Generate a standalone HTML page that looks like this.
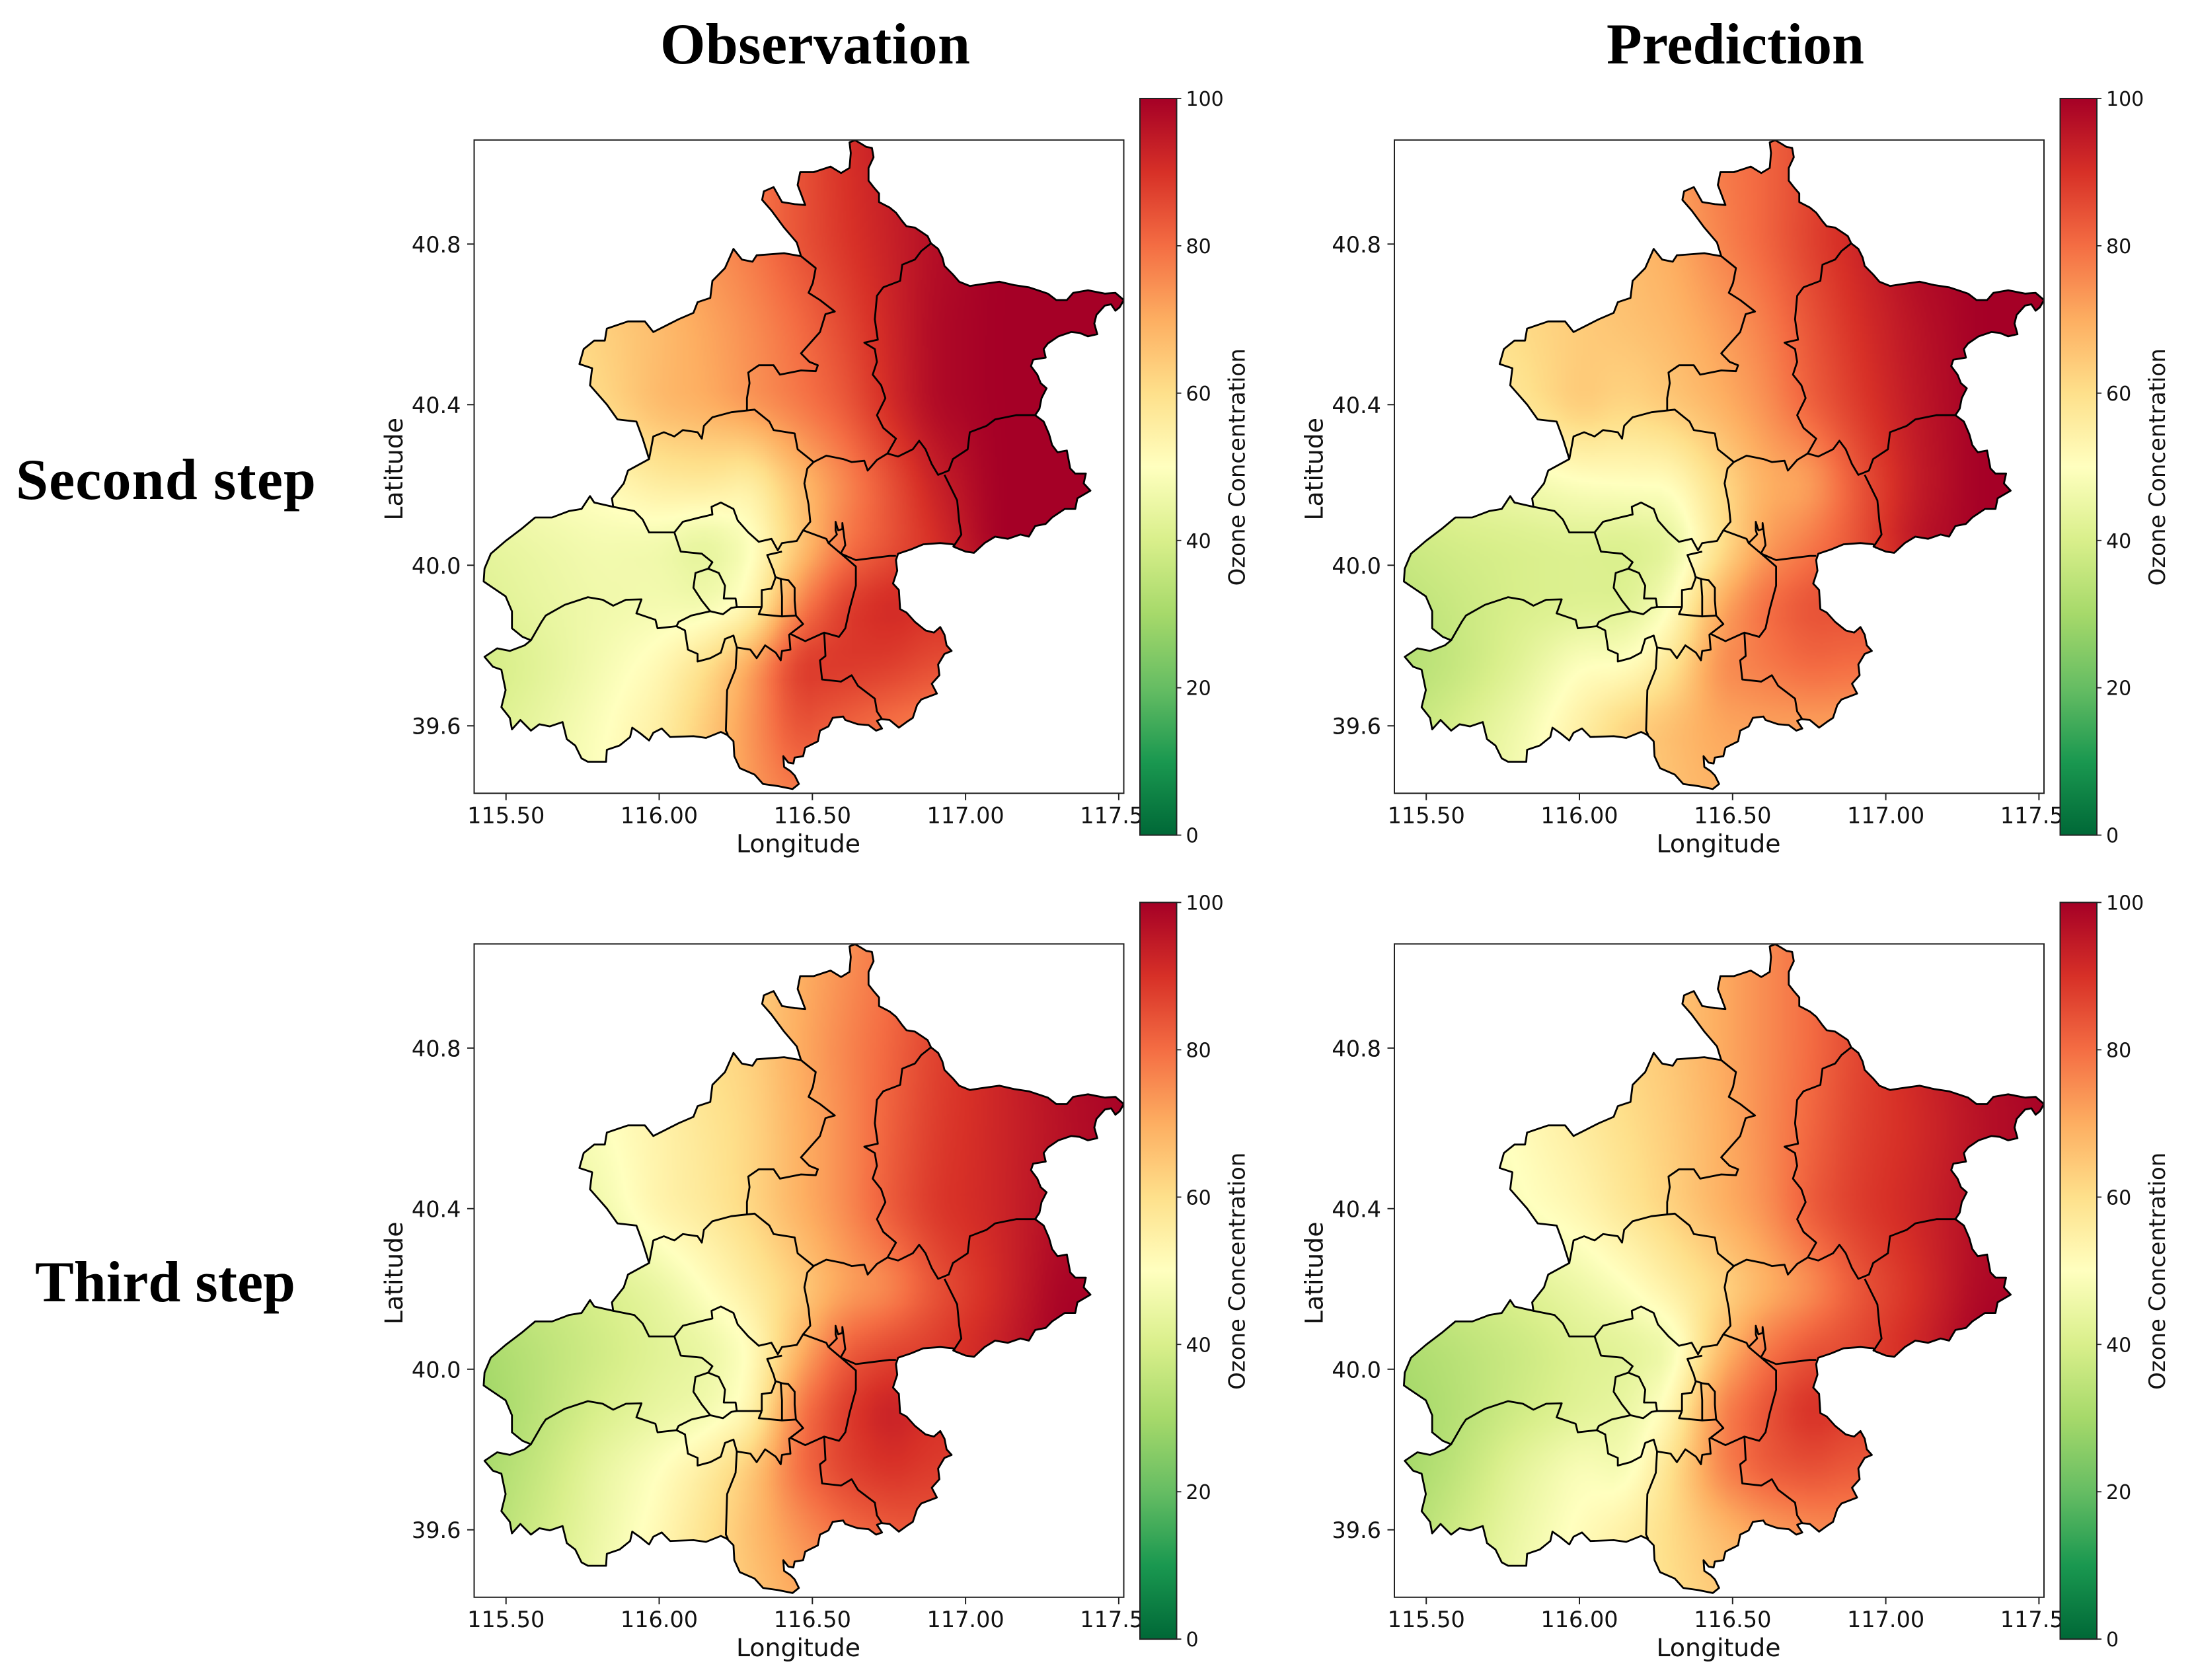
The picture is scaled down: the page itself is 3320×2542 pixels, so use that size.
<!DOCTYPE html>
<html lang="en">
<head>
<meta charset="utf-8">
<title>Ozone Concentration: Observation vs Prediction</title>
<style>
html,body{margin:0;padding:0;background:#fff;}
#stage{position:relative;width:3320px;height:2542px;overflow:hidden;background:#fff;}
#field-canvas{position:absolute;left:0;top:0;}
#chart{position:absolute;left:0;top:0;}
text{font-family:"DejaVu Sans","Liberation Sans",sans-serif;fill:#111;}
.head{font-family:"Liberation Serif",serif;font-weight:bold;font-size:88px;fill:#000;}
</style>
</head>
<body>
<div id="stage">
<canvas id="field-canvas" width="3320" height="2542"></canvas>
<svg id="chart" xmlns="http://www.w3.org/2000/svg" width="3320" height="2542" viewBox="0 0 3320 2542">
  <defs id="defs"></defs>
  <text class="head" x="999" y="96" textLength="469">Observation</text>
  <text class="head" x="2431" y="96" textLength="390">Prediction</text>
  <text class="head" x="24" y="755" textLength="454">Second step</text>
  <text class="head" x="53" y="1969" textLength="394">Third step</text>
  <g id="panels"></g>
</svg>
</div>
<script>
// ---- axis ticks ----
const lonTicks = [115.5, 116.0, 116.5, 117.0, 117.5];
const lonTickLabels = ["115.50", "116.00", "116.50", "117.00", "117.50"];
const latTicks = [40.8, 40.4, 40.0, 39.6];
const latTickLabels = ["40.8", "40.4", "40.0", "39.6"];
const colorTicks = [0, 20, 40, 60, 80, 100];

// ---- heatmap grid nodes ----
const gridLons = [115.4, 115.6, 115.8, 116.0, 116.15, 116.3, 116.45, 116.6, 116.75, 116.9, 117.1, 117.3, 117.55];
const gridLats = [41.05, 40.8, 40.6, 40.4, 40.2, 40.05, 39.9, 39.75, 39.6, 39.4];

// ---- ozone values (row per latitude, column per longitude) ----
const obsSecondStep = [
 [60,65,68,72,75,78,84,90,94,97,100,100,100],
 [60,64,67,71,74,78,84,89,93,97,100,100,100],
 [56,59,63,67,71,75,80,86,92,98,100,100,100],
 [54,57,61,68,70,74,78,83,91,98,100,100,100],
 [47,49,51,56,57,54,66,75,84,93,100,100,100],
 [43,45,47,46,42,48,64,78,84,90,100,100,100],
 [41,44,46,47,46,52,76,88,92,90,92,100,100],
 [38,42,47,52,60,72,89,89,88,85,85,85,85],
 [40,44,49,55,64,74,85,82,79,77,77,77,77],
 [42,46,50,56,65,73,77,76,75,75,75,75,75]
];
const predSecondStep = [
 [58,60,63,66,69,73,78,81,86,91,98,100,100],
 [58,60,62,65,67,70,76,81,87,92,98,100,100],
 [56,58,61,64,66,68,72,77,84,90,96,100,100],
 [53,55,58,65,62,65,69,74,82,88,95,100,100],
 [42,44,46,49,50,50,60,69,71,83,94,100,100],
 [37,39,40,41,40,42,58,72,78,84,96,100,100],
 [34,37,40,41,41,49,70,80,85,85,85,85,85],
 [32,36,42,50,50,58,75,78,81,80,80,80,80],
 [35,40,46,55,63,67,71,72,72,72,72,72,72],
 [38,43,48,56,62,66,69,69,69,69,69,69,69]
];
const obsThirdStep = [
 [42,46,51,56,60,63,69,74,79,86,92,98,100],
 [42,46,51,56,60,63,70,76,81,87,92,97,100],
 [42,45,49,54,58,62,69,75,82,88,92,96,100],
 [40,43,46,54,57,62,69,75,83,89,92,97,100],
 [35,37,40,44,50,56,63,71,75,84,91,99,100],
 [30,34,38,42,44,50,68,82,86,88,93,100,100],
 [28,34,40,44,46,52,78,88,94,90,90,90,90],
 [30,36,44,50,56,65,80,87,90,88,88,88,88],
 [31,38,45,52,59,67,74,80,83,84,84,84,84],
 [33,40,47,54,60,65,70,72,74,74,74,74,74]
];
const predThirdStep = [
 [44,48,53,58,62,65,70,75,80,86,92,98,100],
 [44,48,53,58,62,65,70,75,80,86,92,97,100],
 [44,47,51,56,60,64,69,75,81,87,91,96,100],
 [42,45,49,53,58,63,69,74,83,88,92,97,100],
 [36,38,41,45,49,55,61,68,74,83,90,98,100],
 [31,34,37,41,42,45,66,78,84,86,92,100,100],
 [29,33,38,42,44,52,76,84,91,88,88,88,88],
 [29,35,43,49,47,60,76,83,85,83,83,83,83],
 [31,38,45,51,55,61,67,72,75,76,76,76,76],
 [34,41,47,52,56,60,64,66,68,68,68,68,68]
];
const panelFields = [obsSecondStep, predSecondStep, obsThirdStep, predThirdStep];
const panelNames = ["observation-second-step", "prediction-second-step", "observation-third-step", "prediction-third-step"];

// ---- geographic outlines, digitised in map units (1/726 deg lon, 1/941.7 deg lat) ----
const outerBoundary = [[905,25],[918,20],[932,28],[945,36],[958,38],[962,60],[950,85],[950,115],[962,130],[975,145],[975,165],[1000,178],[1015,190],[1030,210],[1040,222],[1060,225],[1075,235],[1090,245],[1098,262],[1115,275],[1125,295],[1130,315],[1150,335],[1165,352],[1190,362],[1215,358],[1260,352],[1295,360],[1330,365],[1360,375],[1375,380],[1395,395],[1420,395],[1435,378],[1470,372],[1510,380],[1535,378],[1555,395],[1545,412],[1535,420],[1525,405],[1510,408],[1490,430],[1485,450],[1492,475],[1470,480],[1450,472],[1430,470],[1400,480],[1375,497],[1365,510],[1370,530],[1340,535],[1335,550],[1350,570],[1358,590],[1372,602],[1360,625],[1355,650],[1345,665],[1365,680],[1378,710],[1385,735],[1398,752],[1420,748],[1428,790],[1440,802],[1465,802],[1460,825],[1476,842],[1445,860],[1440,885],[1415,885],[1385,905],[1370,920],[1345,925],[1330,950],[1310,945],[1280,955],[1250,950],[1225,965],[1200,988],[1180,985],[1155,975],[1150,968],[1120,965],[1080,968],[1050,980],[1020,990],[1015,1005],[1018,1030],[1008,1060],[1022,1075],[1025,1120],[1040,1128],[1060,1150],[1085,1170],[1105,1175],[1120,1162],[1130,1180],[1135,1205],[1147,1218],[1130,1225],[1115,1250],[1118,1275],[1100,1295],[1112,1318],[1075,1332],[1065,1345],[1055,1375],[1040,1385],[1022,1398],[1000,1380],[980,1378],[970,1382],[982,1400],[968,1405],[950,1392],[925,1390],[895,1380],[890,1372],[865,1375],[855,1395],[835,1405],[830,1430],[800,1445],[795,1465],[775,1468],[772,1482],[760,1480],[748,1465],[750,1490],[765,1500],[775,1510],[785,1530],[770,1542],[735,1535],[700,1530],[680,1508],[645,1493],[632,1465],[630,1430],[615,1415],[600,1408],[565,1422],[535,1418],[480,1420],[460,1400],[440,1410],[430,1428],[410,1412],[390,1398],[385,1420],[360,1440],[330,1450],[328,1478],[285,1478],[270,1470],[255,1440],[235,1425],[225,1385],[195,1395],[170,1390],[150,1405],[125,1380],[105,1402],[100,1375],[80,1350],[90,1310],[80,1262],[60,1255],[40,1232],[70,1212],[100,1218],[135,1205],[150,1193],[130,1185],[105,1165],[105,1125],[90,1090],[60,1070],[38,1055],[40,1025],[55,990],[90,960],[130,930],[160,905],[200,905],[240,890],[270,885],[290,855],[300,870],[345,880],[342,860],[370,825],[380,795],[430,768],[415,720],[400,680],[355,675],[330,640],[290,595],[295,555],[265,545],[275,510],[300,490],[325,490],[330,462],[380,445],[420,445],[440,470],[470,455],[500,440],[535,425],[545,400],[575,390],[580,350],[610,320],[630,275],[650,300],[675,305],[685,290],[750,285],[790,292],[780,260],[750,225],[720,185],[698,160],[702,140],[725,130],[745,165],[775,170],[800,172],[782,125],[788,95],[820,95],[860,82],[885,97],[905,85],[908,50]];
const districtLines = [
 [[790,292],[825,320],[818,355],[808,378],[835,395],[870,422],[848,428],[835,470],[790,520],[810,540],[830,548],[825,562],[790,560],[740,570],[725,548],[690,548],[665,565],[668,590],[662,625],[662,655]],
 [[1098,262],[1075,280],[1060,300],[1030,312],[1025,350],[985,365],[970,385],[965,440],[972,488],[940,495],[965,510],[970,540],[960,570],[980,595],[990,625],[970,665],[985,695],[1015,720],[995,755]],
 [[430,768],[440,715],[465,705],[490,715],[510,700],[545,705],[555,720],[560,690],[580,670],[625,658],[680,652],[715,680],[725,700],[775,708],[782,745],[820,775],[850,760],[890,768],[910,775],[940,772],[948,795],[970,770],[995,755],[1020,762],[1055,745],[1070,725],[1085,745],[1100,780],[1115,805],[1140,795],[1150,768],[1185,745],[1190,705],[1230,690],[1250,675],[1300,665],[1345,665]],
 [[1130,805],[1160,865],[1165,915],[1170,945],[1150,975]],
 [[820,775],[805,790],[798,825],[808,875],[812,915],[795,935]],
 [[345,880],[395,890],[415,910],[430,940],[490,940],[510,915],[550,905],[580,898],[578,880],[600,870],[630,885],[640,912],[665,940],[690,962],[720,955],[735,982],[745,965],[780,960],[795,935],[850,955],[855,965],[885,990],[920,1005],[960,1000],[1000,995],[1015,995]],
 [[855,965],[875,945],[872,935],[872,915],[878,935],[888,932],[888,918],[895,970],[885,988]],
 [[490,940],[505,985],[555,990],[580,1010],[570,1025],[540,1035],[535,1070],[555,1100],[575,1125]],
 [[570,1025],[595,1035],[610,1065],[607,1095],[635,1095],[638,1115],[697,1115]],
 [[745,985],[710,993],[725,1030],[730,1048]],
 [[697,1115],[697,1075],[720,1072],[730,1045],[745,1050],[760,1052],[775,1070],[775,1100],[778,1135],[745,1137],[745,1090],[742,1048]],
 [[697,1115],[690,1132],[745,1137]],
 [[575,1125],[605,1132],[625,1117],[638,1115]],
 [[575,1125],[530,1135],[500,1150],[495,1160],[515,1170],[522,1215],[545,1225],[545,1243],[575,1235],[600,1222],[610,1190],[630,1182],[638,1210],[670,1215],[685,1235],[705,1205],[730,1222],[742,1240],[745,1218],[765,1215],[762,1180],[795,1155],[778,1135]],
 [[885,990],[920,1020],[920,1065],[905,1120],[895,1165],[880,1185],[845,1175],[800,1195],[765,1178]],
 [[845,1175],[848,1230],[835,1240],[840,1285],[885,1290],[910,1275],[925,1300],[965,1330],[970,1360],[982,1378]],
 [[638,1210],[635,1260],[615,1310],[612,1405],[617,1415]],
 [[150,1193],[175,1150],[185,1135],[230,1110],[285,1092],[320,1098],[345,1112],[375,1098],[412,1097],[400,1130],[445,1145],[450,1165],[495,1160]]
];

// ---- RdYlGn_r colormap ----
const colormapStops = ["#006837","#1a9850","#66bd63","#a6d96a","#d9ef8b","#ffffbf","#fee08b","#fdae61","#f46d43","#d73027","#a50026"];

// ---- layout ----
const panelWidth = 983, panelHeight = 988.5;
const colLeft = [717.5, 2110];
const rowTop = [211.8, 1428.3];
const lonMin = 115.396, lonMax = 117.5164, latMax = 41.0593, latMin = 39.432;
const geoLon = u => 115.3747 + u / 726;
const geoLat = v => 41.08 - v / 941.7;
const NS = "http://www.w3.org/2000/svg";

function hexRgb(h){return [parseInt(h.slice(1,3),16),parseInt(h.slice(3,5),16),parseInt(h.slice(5,7),16)];}
const stopsRgb = colormapStops.map(hexRgb);
function colorFor(v){
  const t = Math.max(0, Math.min(100, v)) / 10;
  const i = Math.min(9, Math.floor(t)), f = t - i;
  const a = stopsRgb[i], b = stopsRgb[i + 1];
  return "rgb(" + Math.round(a[0] + (b[0] - a[0]) * f) + "," + Math.round(a[1] + (b[1] - a[1]) * f) + "," + Math.round(a[2] + (b[2] - a[2]) * f) + ")";
}
const colorLut = [];
for (let i = 0; i <= 1000; i++) colorLut.push(colorFor(i / 10));

function segIndexAsc(arr, v){
  let i = 0;
  while (i < arr.length - 2 && v > arr[i + 1]) i++;
  return i;
}
function segIndexDesc(arr, v){
  let i = 0;
  while (i < arr.length - 2 && v < arr[i + 1]) i++;
  return i;
}
function sampleField(field, lon, lat){
  const i = segIndexAsc(gridLons, lon), j = segIndexDesc(gridLats, lat);
  const fx = Math.max(0, Math.min(1, (lon - gridLons[i]) / (gridLons[i + 1] - gridLons[i])));
  const fy = Math.max(0, Math.min(1, (lat - gridLats[j]) / (gridLats[j + 1] - gridLats[j])));
  const top = field[j][i] + (field[j][i + 1] - field[j][i]) * fx;
  const bot = field[j + 1][i] + (field[j + 1][i + 1] - field[j + 1][i]) * fx;
  return top + (bot - top) * fy;
}
function smoothField(field, lon, lat){
  const dLon = 0.04, dLat = 0.035;
  return (sampleField(field, lon, lat) * 2 +
    sampleField(field, lon - dLon, lat - dLat) + sampleField(field, lon + dLon, lat - dLat) +
    sampleField(field, lon - dLon, lat + dLat) + sampleField(field, lon + dLon, lat + dLat)) / 6;
}

function el(tag, attrs, parent){
  const e = document.createElementNS(NS, tag);
  for (const k in attrs) e.setAttribute(k, attrs[k]);
  if (parent) parent.appendChild(e);
  return e;
}

const defs = document.getElementById("defs");
const grad = el("linearGradient", {id: "cbar-gradient", x1: 0, y1: 1, x2: 0, y2: 0}, defs);
colormapStops.forEach((c, i) => {
  el("stop", {offset: (i * 10) + "%", "stop-color": c}, grad);
});

const ctx = document.getElementById("field-canvas").getContext("2d");
const root = document.getElementById("panels");

panelFields.forEach((field, p) => {
  const col = p % 2, row = Math.floor(p / 2);
  const left = colLeft[col], top = rowTop[row];
  const xScale = lon => left + (lon - lonMin) / (lonMax - lonMin) * panelWidth;
  const yScale = lat => top + (latMax - lat) / (latMax - latMin) * panelHeight;
  const toPath = pts => pts.map((q, i) => (i ? "L" : "M") + xScale(geoLon(q[0])).toFixed(1) + " " + yScale(geoLat(q[1])).toFixed(1)).join("");

  // heatmap
  ctx.save();
  ctx.beginPath();
  ctx.rect(left, top, panelWidth, panelHeight);
  ctx.clip();
  ctx.clip(new Path2D(toPath(outerBoundary) + "Z"));
  const step = 3;
  for (let px = Math.floor(left); px < left + panelWidth; px += step) {
    const lon = lonMin + (px + step / 2 - left) / panelWidth * (lonMax - lonMin);
    for (let py = Math.floor(top); py < top + panelHeight; py += step) {
      const lat = latMax - (py + step / 2 - top) / panelHeight * (latMax - latMin);
      const v = smoothField(field, lon, lat);
      ctx.fillStyle = colorLut[Math.round(Math.max(0, Math.min(100, v)) * 10)];
      ctx.fillRect(px, py, step, step);
    }
  }
  ctx.restore();

  const g = el("g", {}, root);
  
  

  const clip = el("clipPath", {id: "clip-" + p}, defs);
  el("rect", {x: left, y: top, width: panelWidth, height: panelHeight}, clip);

  // boundaries
  const map = el("g", {"clip-path": "url(#clip-" + p + ")", fill: "none", stroke: "#000", "stroke-width": 2.8, "stroke-linejoin": "round"}, g);
  
  
  const outer = el("path", {d: toPath(outerBoundary) + "Z"}, map);
  
  
  districtLines.forEach(line => {
    const d = el("path", {d: toPath(line)}, map);
    
    
  });

  // spines
  const frame = el("rect", {x: left, y: top, width: panelWidth, height: panelHeight, fill: "none", stroke: "#222", "stroke-width": 2}, g);
  
  

  // x ticks
  const bottom = top + panelHeight;
  lonTicks.forEach((t, i) => {
    const x = xScale(t);
    const tick = el("line", {x1: x, x2: x, y1: bottom, y2: bottom + 10.5, stroke: "#222", "stroke-width": 2}, g);
    
    
    const label = el("text", {x: x, y: bottom + 45, "text-anchor": "middle", "font-size": 33.5}, g);
    label.textContent = lonTickLabels[i];
    
    
  });
  const xt = el("text", {x: left + panelWidth / 2 - 1, y: bottom + 89, "text-anchor": "middle", "font-size": 37.8}, g);
  xt.textContent = "Longitude";
  
  

  // y ticks
  latTicks.forEach((t, i) => {
    const y = yScale(t);
    const tick = el("line", {x1: left - 10.5, x2: left, y1: y, y2: y, stroke: "#222", "stroke-width": 2}, g);
    
    
    const label = el("text", {x: left - 20, y: y + 12.5, "text-anchor": "end", "font-size": 33.5}, g);
    label.textContent = latTickLabels[i];
    
    
  });
  const yMid = top + 498;
  const yt = el("text", {x: 0, y: 0, "text-anchor": "middle", "font-size": 37.8, transform: "translate(" + (left - 108.5) + " " + yMid + ") rotate(-90)"}, g);
  yt.textContent = "Latitude";
  
  

  // colorbar
  const cbLeft = left + 1007.5, cbW = 55.5, cbTop = top - 62.8, cbH = 1114.6;
  const cScale = v => cbTop + cbH * (1 - v / 100);
  const bar = el("rect", {x: cbLeft, y: cbTop, width: cbW, height: cbH, fill: "url(#cbar-gradient)", stroke: "#222", "stroke-width": 2}, g);
  
  
  colorTicks.forEach(v => {
    const y = cScale(v);
    const tick = el("line", {x1: cbLeft + cbW, x2: cbLeft + cbW + 7, y1: y, y2: y, stroke: "#222", "stroke-width": 1.8}, g);
    
    
    const label = el("text", {x: cbLeft + cbW + 14, y: y + 11, "font-size": 30}, g);
    label.textContent = String(v);
    
    
  });
  const ct = el("text", {x: 0, y: 0, "text-anchor": "middle", "font-size": 34, transform: "translate(" + (left + 1166) + " " + (top + 495) + ") rotate(-90)"}, g);
  ct.textContent = "Ozone Concentration";
  
  
});
</script>
</body>
</html>
